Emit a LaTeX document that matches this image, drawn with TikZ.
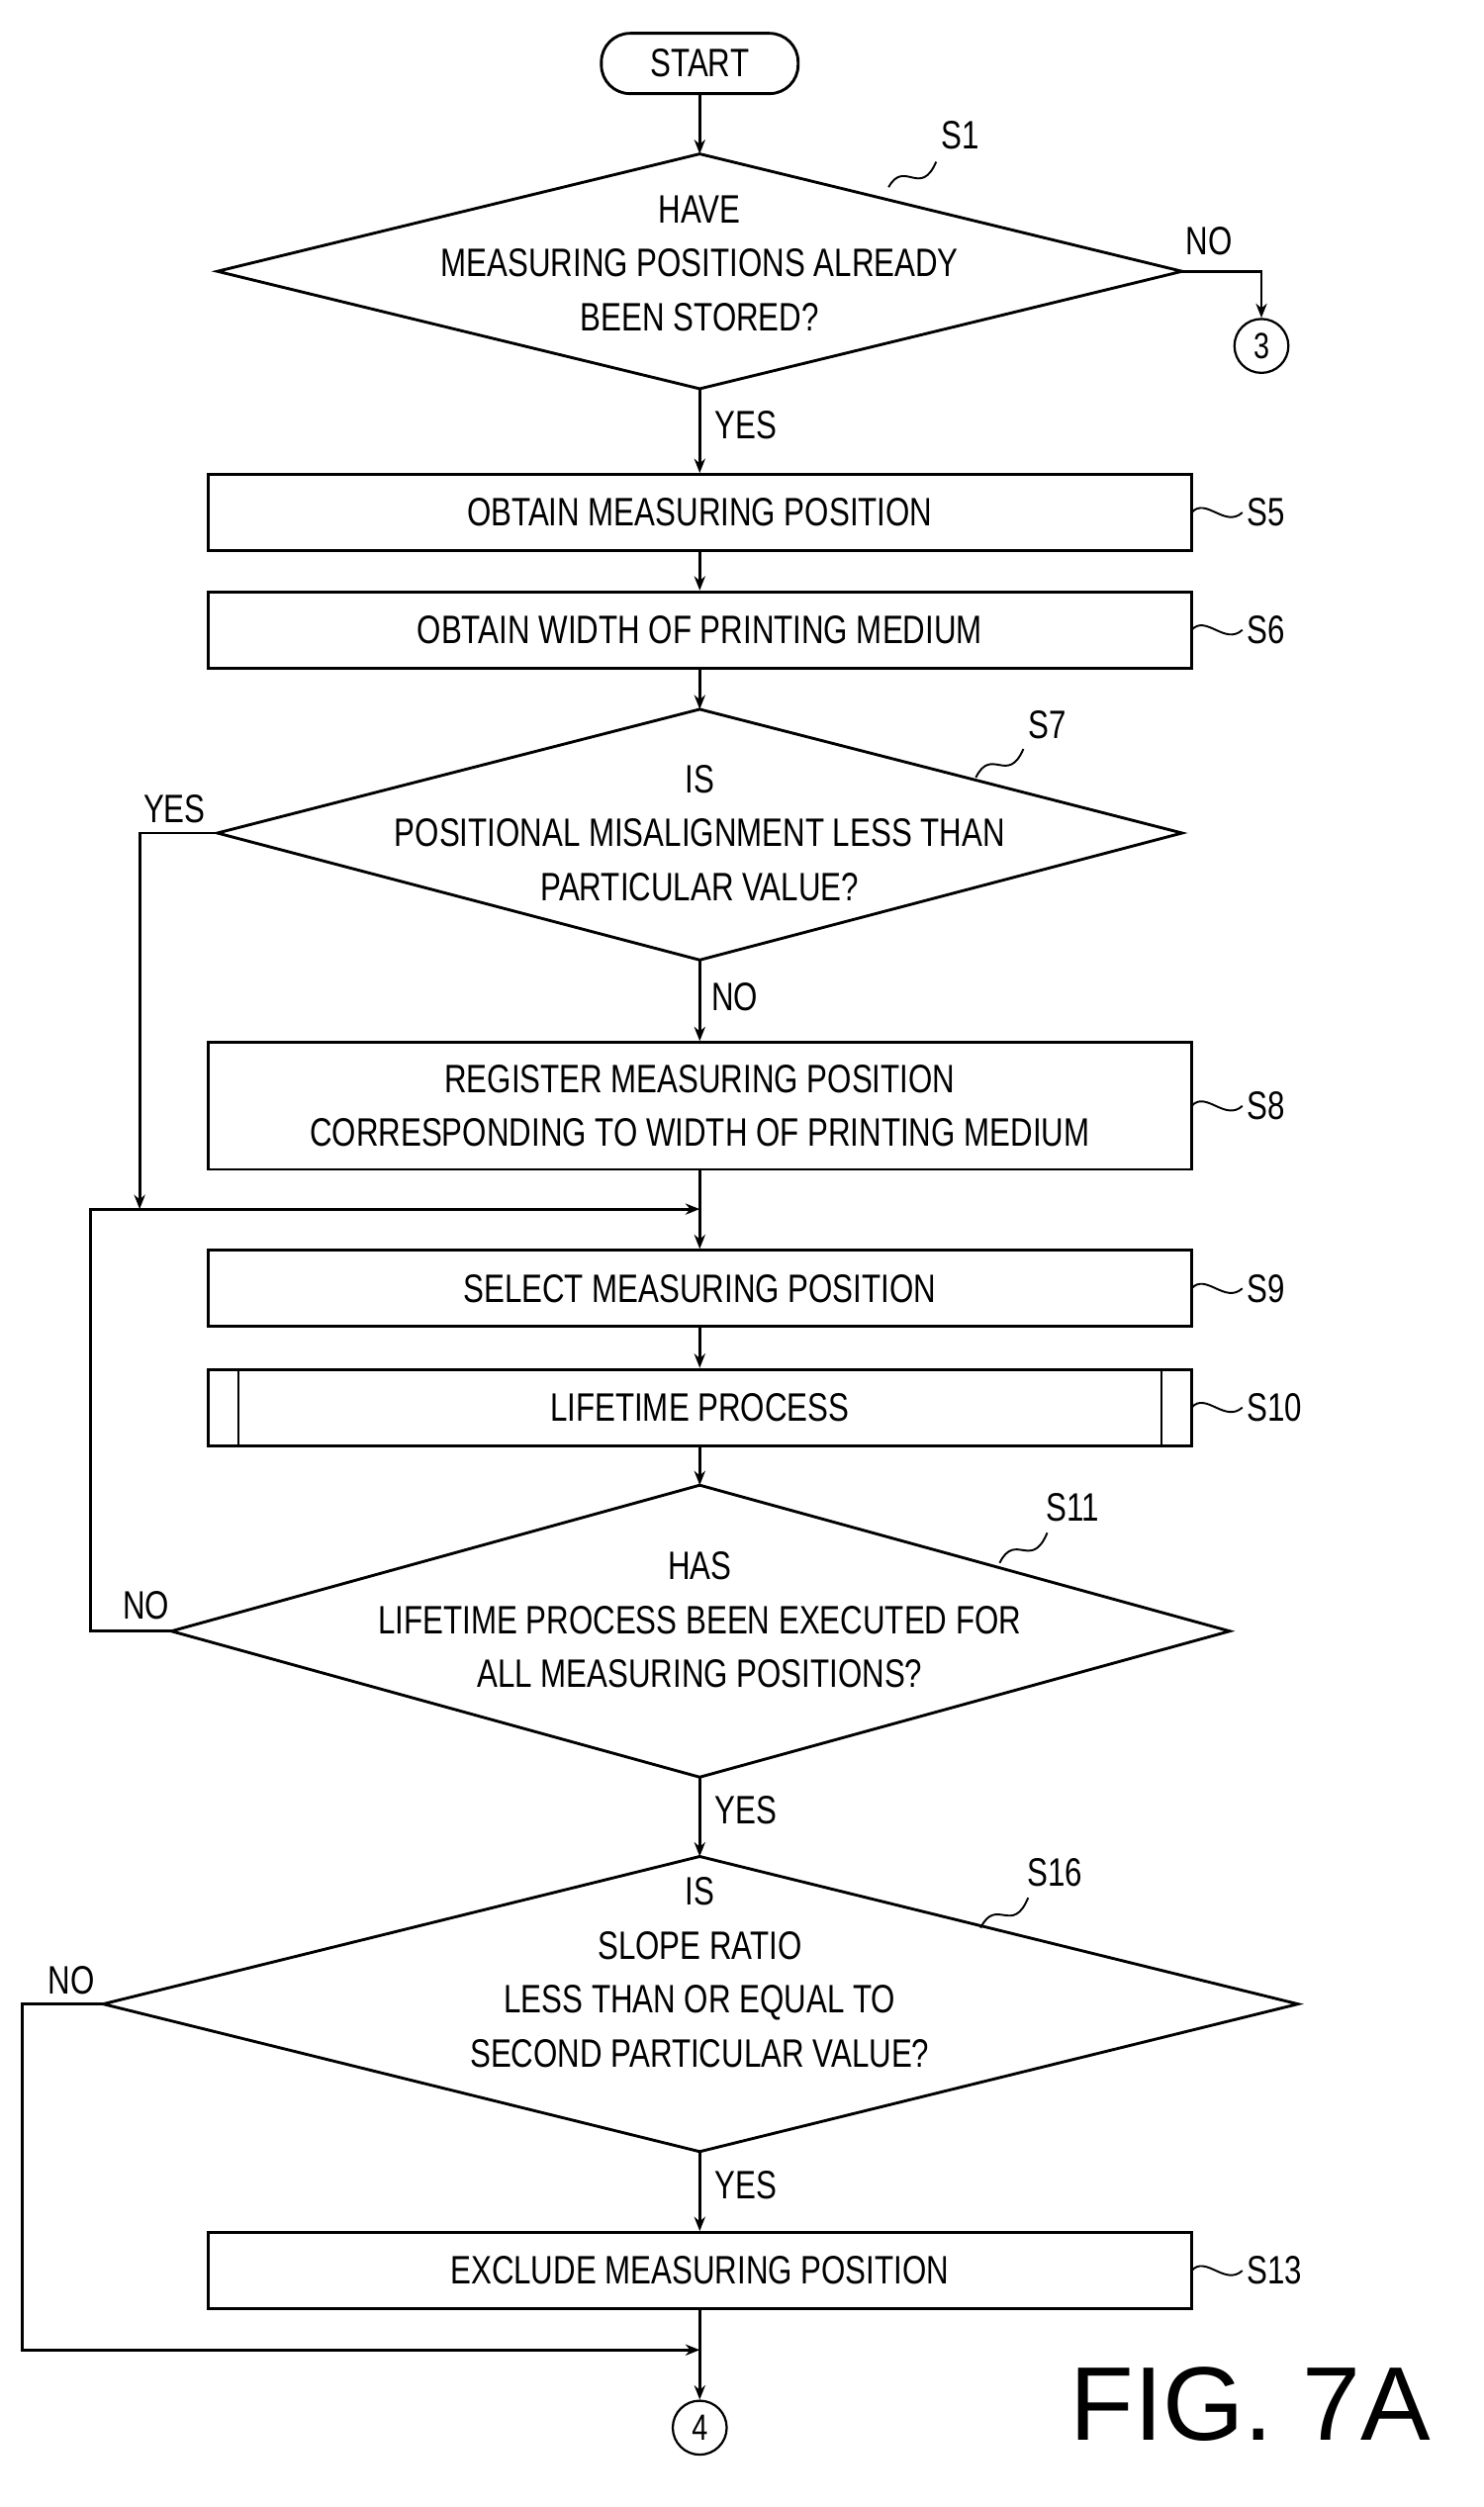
\documentclass[tikz,border=0pt]{standalone}
\usepackage{fontspec}
\setmainfont{Liberation Sans}[FakeStretch=0.78]
\newfontfamily\figfont{Liberation Sans}
\usetikzlibrary{shapes.geometric,arrows.meta}
\begin{document}
\begin{tikzpicture}[x=1pt,y=-1pt,line width=1.8pt,
  txt/.style={font=\fontsize{25}{34}\selectfont,align=center,inner sep=0pt},
  box/.style={draw,minimum width=620pt,minimum height=48pt,txt},
  dia/.style={draw,diamond,aspect=#1,inner sep=0pt,txt},
  lab/.style={font=\fontsize{25}{30}\selectfont,inner sep=1pt},
  circ/.style={draw,circle,minimum size=34pt,inner sep=0pt,font=\fontsize{23}{26}\selectfont,line width=1.4pt},
  arr/.style={-{Stealth[length=9pt,width=7pt]}},
  lead/.style={line width=1.2pt}]
\useasboundingbox (0,0) rectangle (935,1580);
\node[draw,rounded corners=18pt,minimum width=124pt,minimum height=38pt,txt] (start) at (441,40) {START};
% S1
\path (137,171) coordinate (s1l) (745,171) coordinate (s1r) (441,97) coordinate (s1t) (441,245) coordinate (s1b);
\draw (s1t) -- (s1r) -- (s1b) -- (s1l) -- cycle;
\node[txt] (s1txt) at (441,166) {HAVE\\MEASURING POSITIONS ALREADY\\BEEN STORED?};
\node[lab] (s1lab) at (605,85) {S1};
\draw[lead] (560,118) .. controls (570,100) and (580,125) .. (590,102);
\node[circ] (c3) at (795,218) {3};
\node[lab] (no1) at (762,152) {NO};
\draw[arr] (s1r) -- (795,171) -- (c3);
\draw[arr] (start) -- (s1t);
% S5
\node[box] (s5) at (441,323) {OBTAIN MEASURING POSITION};
\node[lab] (yes1) at (470,268) {YES};
\draw[arr] (s1b) -- (s5);
\node[box,minimum height=48pt] (s6) at (441,397) {OBTAIN WIDTH OF PRINTING MEDIUM};
\draw[arr] (s5) -- (s6);
% S7
\path (137,525) coordinate (s7l) (745,525) coordinate (s7r) (441,447) coordinate (s7t) (441,605) coordinate (s7b);
\draw (s7t) -- (s7r) -- (s7b) -- (s7l) -- cycle;
\node[txt] (s7txt) at (441,525) {IS\\POSITIONAL MISALIGNMENT LESS THAN\\PARTICULAR VALUE?};
\node[lab] (s7lab) at (660,457) {S7};
\draw[lead] (615,490) .. controls (625,470) and (635,495) .. (645,472);
\draw[arr] (s6) -- (s7t);
\node[lab] (yes7) at (110,510) {YES};
\node[lab] (no7) at (463,628) {NO};
% S8
\node[box,minimum height=80pt] (s8) at (441,697) {REGISTER MEASURING POSITION\\CORRESPONDING TO WIDTH OF PRINTING MEDIUM};
\draw[arr] (s7b) -- (s8);
\coordinate (m1) at (441,762);
\draw[arr] (s7l) -- (88,525) -- (88,762);
% S9
\node[box] (s9) at (441,812) {SELECT MEASURING POSITION};
\draw[arr] (s8) -- (s9);
\node[box] (s10) at (441,887) {LIFETIME PROCESS};
\draw[line width=1.2pt] (150,863) -- (150,911) (732,863) -- (732,911);
\draw[arr] (s9) -- (s10);
% S11
\path (108,1028) coordinate (s11l) (775,1028) coordinate (s11r) (441,936) coordinate (s11t) (441,1120) coordinate (s11b);
\draw (s11t) -- (s11r) -- (s11b) -- (s11l) -- cycle;
\node[txt] (s11txt) at (441,1021) {HAS\\LIFETIME PROCESS BEEN EXECUTED FOR\\ALL MEASURING POSITIONS?};
\node[lab] (s11lab) at (676,950) {S11};
\draw[lead] (630,985) .. controls (640,965) and (650,990) .. (660,966);
\draw[arr] (s10) -- (s11t);
\node[lab] (no11) at (92,1012) {NO};
\draw[arr] (s11l) -- (57,1028) -- (57,762) -- (m1);
% S16
\path (65,1263) coordinate (s16l) (818,1263) coordinate (s16r) (441,1170) coordinate (s16t) (441,1356) coordinate (s16b);
\draw (s16t) -- (s16r) -- (s16b) -- (s16l) -- cycle;
\node[txt] (s16txt) at (441,1243) {IS\\SLOPE RATIO\\LESS THAN OR EQUAL TO\\SECOND PARTICULAR VALUE?};
\node[lab] (s16lab) at (665,1180) {S16};
\draw[lead] (618,1215) .. controls (628,1195) and (638,1220) .. (648,1196);
\node[lab] (yes11) at (470,1141) {YES};
\draw[arr] (s11b) -- (s16t);
\node[lab] (no16) at (45,1248) {NO};
\node[lab] (yes16) at (470,1377) {YES};
% S13
\node[box] (s13) at (441,1431) {EXCLUDE MEASURING POSITION};
\draw[arr] (s16b) -- (s13);
\node[circ] (c4) at (441,1530) {4};
\draw[arr] (s13) -- (c4);
\draw[arr] (s16l) -- (14,1263) -- (14,1481) -- (441,1481);
% side labels
\foreach \n/\y/\t in {s5/323/S5,s6/397/S6,s8/697/S8,s9/812/S9,s10/887/S10,s13/1431/S13}{
  \draw[lead] (751,\y) .. controls (760,\y-10) and (772,\y+10) .. (783,\y);
  \node[lab,anchor=west] (l\n) at (784,\y) {\t};
}
\node[font=\figfont\fontsize{66}{70}\selectfont,inner sep=0pt] (fig) at (788,1515) {FIG. 7A};
\end{tikzpicture}
\end{document}
